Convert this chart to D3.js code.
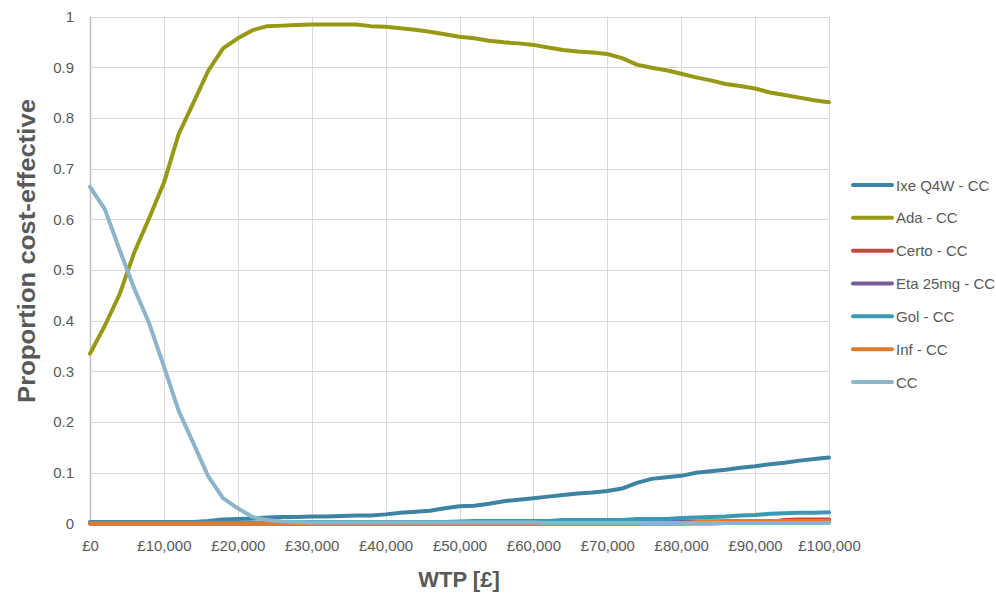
<!DOCTYPE html>
<html>
<head>
<meta charset="utf-8">
<script src="https://cdn.jsdelivr.net/npm/d3@7"></script>
<style>
  html, body { margin: 0; padding: 0; background: #fff; }
  svg { display: block; }
  text { font-family: "Liberation Sans", Arial, sans-serif; fill: #595959; }
</style>
</head>
<body>
<svg id="chart" width="996" height="593"></svg>
<script>
// WTP categories (£), every 2,000
const wtp = d3.range(0, 100001, 2000);

const ixe = [0.003,0.003,0.003,0.003,0.003,0.003,0.003,0.003,0.005,0.008,
             0.009,0.010,0.012,0.013,0.013,0.014,0.014,0.015,0.016,0.016,
             0.018,0.021,0.023,0.025,0.030,0.034,0.035,0.039,0.044,0.047,
             0.050,0.053,0.056,0.059,0.061,0.064,0.069,0.080,0.088,0.091,
             0.094,0.100,0.103,0.106,0.110,0.113,0.117,0.120,0.124,0.127,0.130];

const ada = [0.335,0.390,0.452,0.535,0.602,0.672,0.768,0.830,0.893,0.937,
             0.957,0.973,0.981,0.982,0.983,0.984,0.984,0.984,0.984,0.981,
             0.980,0.977,0.974,0.970,0.965,0.960,0.957,0.952,0.949,0.947,
             0.944,0.939,0.934,0.931,0.929,0.926,0.918,0.905,0.899,0.894,
             0.887,0.880,0.874,0.867,0.863,0.858,0.850,0.845,0.840,0.835,0.831];

const certo = [0,0,0,0,0,0,0,0,0,0,
               0,0,0,0,0,0,0,0,0,0,
               0,0,0,0,0,0,0,0,0,0,
               0,0,0,0,0,0,0,0,0,0,
               0,0,0,0.001,0.002,0.002,0.003,0.007,0.008,0.008,0.008];

const eta = [0,0,0,0,0,0,0,0,0,0,
             0,0,0,0,0,0,0,0,0,0,
             0,0,0,0,0,0,0,0,0,0,
             0,0,0,0,0,0,0,0,0.002,0.004,
             0.004,0.004,0.004,0.004,0.004,0.004,0.004,0.004,0.004,0.004,0.004];

const gol = [0.002,0.002,0.002,0.002,0.002,0.002,0.002,0.002,0.002,0.002,
             0.002,0.002,0.002,0.003,0.003,0.003,0.003,0.003,0.003,0.003,
             0.003,0.003,0.003,0.003,0.003,0.004,0.005,0.005,0.005,0.005,
             0.005,0.005,0.007,0.007,0.007,0.007,0.007,0.009,0.009,0.009,
             0.011,0.012,0.013,0.014,0.016,0.017,0.019,0.020,0.021,0.021,0.022];

const inf = [0,0,0,0,0,0,0,0,0,0,
             0,0,0,0,0,0,0,0,0,0,
             0,0,0,0,0,0,0,0,0,0,
             0,0,0,0,0,0,0,0,0,0,
             0,0.003,0.004,0.005,0.005,0.005,0.005,0.005,0.005,0.005,0.005];

const cc = [0.664,0.620,0.540,0.463,0.395,0.310,0.222,0.158,0.093,0.050,
            0.030,0.013,0.007,0.004,0.003,0.002,0.002,0.002,0.002,0.002,
            0.002,0.002,0.002,0.002,0.002,0.002,0.002,0.002,0.002,0.002,
            0.002,0.001,0.001,0.001,0.001,0.001,0.001,0.001,0.001,0.001,
            0.001,0.001,0.001,0.001,0.001,0.001,0.001,0.001,0.001,0.001,0.001];

const seriesNames = ["Ixe Q4W - CC","Ada - CC","Certo - CC","Eta 25mg - CC","Gol - CC","Inf - CC","CC"];
const seriesValues = [ixe, ada, certo, eta, gol, inf, cc];
const seriesColors = ["#3d84a3","#979915","#c9433f","#775a96","#3a9ab4","#e07b2a","#8cb5cc"];

const xTicks = d3.range(0, 100001, 10000);
const yTicks = d3.range(0, 1.0001, 0.1);

const svg = d3.select("#chart");
const x = d3.scaleLinear().domain([0, 100000]).range([90, 829]);
const y = d3.scaleLinear().domain([0, 1]).range([523.5, 16.5]);

// gridlines
const grid = svg.append("g");
grid.selectAll("line.h").data(yTicks).enter().append("line")
  .attr("x1", x(0)).attr("x2", x(100000))
  .attr("y1", d => Math.round(y(d)) + 0.5).attr("y2", d => Math.round(y(d)) + 0.5)
  .attr("stroke", "#d9d9d9").attr("stroke-width", 1);
grid.selectAll("line.v").data(xTicks).enter().append("line")
  .attr("y1", y(0)).attr("y2", y(1))
  .attr("x1", d => Math.round(x(d)) + 0.5).attr("x2", d => Math.round(x(d)) + 0.5)
  .attr("stroke", d => d === 0 ? "#bfbfbf" : "#d9d9d9").attr("stroke-width", d => d === 0 ? 1.5 : 1);

// axes tick labels via d3 axes
const fmtGBP = d => "£" + d3.format(",")(d);
const xAxis = d3.axisBottom(x).tickValues(xTicks).tickFormat(fmtGBP).tickSize(0).tickPadding(17);
const yAxis = d3.axisLeft(y).tickValues(yTicks).tickFormat(d => d3.format("~g")(+d.toFixed(1))).tickSize(0).tickPadding(16);

const gx = svg.append("g").attr("transform", `translate(0,${y(0)})`).call(xAxis);
const gy = svg.append("g").attr("transform", `translate(${x(0)},0)`).call(yAxis);
[gx, gy].forEach(g => {
  g.select(".domain").remove();
  g.selectAll("text").attr("font-family", "Liberation Sans, Arial, sans-serif")
    .attr("font-size", 15).attr("fill", "#595959");
});

// lines
const line = d3.line().x((d, i) => x(wtp[i])).y(d => y(d)).curve(d3.curveLinear);
svg.append("g").selectAll("path").data(seriesValues).enter().append("path")
  .attr("d", d => line(d))
  .attr("fill", "none")
  .attr("stroke", (d, i) => seriesColors[i])
  .attr("stroke-width", 4)
  .attr("stroke-linejoin", "round")
  .attr("stroke-linecap", "round");

// titles
svg.append("text").attr("x", 459).attr("y", 579)
  .attr("text-anchor", "middle").attr("dominant-baseline", "central")
  .attr("font-size", 22).attr("font-weight", "bold").attr("fill", "#595959")
  .text("WTP [£]");
svg.append("text").attr("transform", "translate(27,251) rotate(-90)")
  .attr("text-anchor", "middle").attr("dominant-baseline", "central")
  .attr("font-size", 23).attr("font-weight", "bold").attr("fill", "#595959")
  .attr("textLength", 304).attr("lengthAdjust", "spacingAndGlyphs")
  .text("Proportion cost-effective");

// legend
const legendY = d3.scalePoint().domain(seriesNames).range([185, 382]);
const leg = svg.append("g").selectAll("g").data(seriesNames).enter().append("g")
  .attr("transform", d => `translate(0,${legendY(d)})`);
leg.append("line").attr("x1", 853).attr("x2", 892).attr("y1", 0).attr("y2", 0)
  .attr("stroke", (d, i) => seriesColors[i]).attr("stroke-width", 4).attr("stroke-linecap", "round");
leg.append("text").attr("x", 896).attr("y", 0).attr("dominant-baseline", "central")
  .attr("font-size", 15).attr("fill", "#595959").text(d => d);
</script>
</body>
</html>
